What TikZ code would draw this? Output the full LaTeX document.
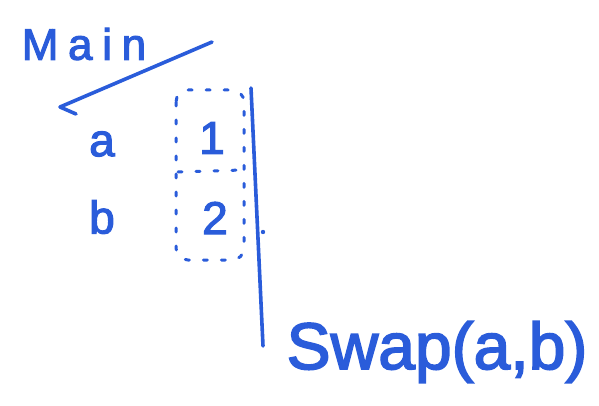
\documentclass[tikz,border=0pt]{standalone}
\usepackage{fontspec}
\setmainfont{Liberation Sans}
\definecolor{pen}{RGB}{42,92,218}
\begin{document}
\begin{tikzpicture}[x=1pt,y=-1pt,
  ink/.style={draw=pen,line width=3.6pt,line cap=round,line join=round},
  dotted box/.style={draw=pen,line width=3pt,line cap=round,dash pattern=on 4pt off 14pt,rounded corners=12pt},
  lbl/.style={text=pen,inner sep=0pt,anchor=center}]
\useasboundingbox (0,0) rectangle (599,406);
% labels
\node[lbl,font=\fontsize{44}{46}\selectfont\addfontfeature{LetterSpace=22,FakeBold=2.5}] (main) at (84,44) {Main};
\node[lbl,font=\fontsize{46}{48}\selectfont\addfontfeature{FakeBold=2.5}] (va) at (102,144) {a};
\node[lbl,font=\fontsize{46}{48}\selectfont\addfontfeature{FakeBold=2.5}] (vb) at (102,217) {b};
\node[lbl,font=\fontsize{46}{48}\selectfont\addfontfeature{FakeBold=2.5}] (one) at (212,138) {1};
\node[lbl,font=\fontsize{46}{48}\selectfont\addfontfeature{FakeBold=2.5}] (two) at (215,218) {2};
\node[lbl,font=\fontsize{66}{70}\selectfont\addfontfeature{FakeBold=2.5}] (swap) at (437,352) {Swap(a,b)};
% frame of main
\coordinate (ft) at (212,42);
\coordinate (fb) at (60,107);
\coordinate (fh) at (76,114);
\draw[ink] (ft) -- (fb) -- (fh);
% dashed box holding the values
\coordinate (bx1) at (176,90);
\coordinate (bx2) at (244,260);
\draw[dotted box] (bx1) rectangle (bx2);
\coordinate (dl) at (178,172);
\coordinate (dr) at (242,170);
\draw[dotted box] (dl) -- (dr);
% frame of swap
\coordinate (st) at (251,88);
\coordinate (sb) at (263,346);
\draw[ink] (st) -- (sb);
\fill[pen] (263,232) circle (2.2pt);
\end{tikzpicture}
\end{document}
